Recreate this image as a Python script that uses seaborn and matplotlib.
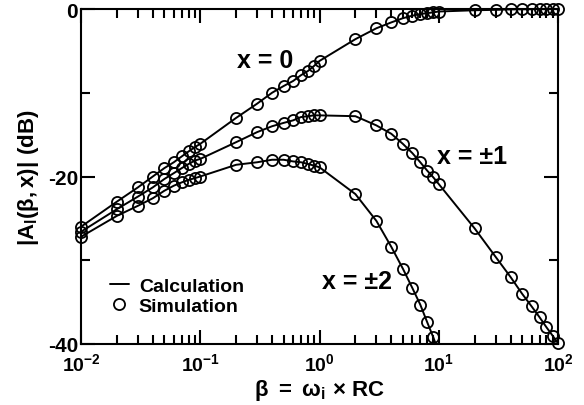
import numpy as np
import pandas as pd
import matplotlib
matplotlib.use('Agg')
import matplotlib.pyplot as plt
import seaborn as sns
from matplotlib.lines import Line2D
from matplotlib.ticker import FixedLocator, NullFormatter, LogLocator

# ---------------- data ----------------
beta = [0.01, 0.02, 0.03, 0.04, 0.05, 0.06, 0.07, 0.08, 0.09,
        0.1, 0.2, 0.3, 0.4, 0.5, 0.6, 0.7, 0.8, 0.9,
        1, 2, 3, 4, 5, 6, 7, 8, 9,
        10, 20, 30, 40, 50, 60, 70, 80, 90, 100]

amp_x0 = [-26.0, -23.0, -21.3, -20.0, -19.0, -18.3, -17.6, -17.0, -16.5,
          -16.1, -13.0, -11.3, -10.0, -9.2, -8.6, -7.9, -7.4, -6.8,
          -6.2, -3.6, -2.3, -1.6, -1.1, -0.8, -0.6, -0.5, -0.4,
          -0.3, -0.15, -0.1, -0.05, -0.04, -0.03, -0.02, -0.02, -0.01, -0.01]

amp_x1 = [-26.6, -23.9, -22.4, -21.3, -20.3, -19.6, -19.0, -18.5, -18.1,
          -17.9, -15.9, -14.7, -14.0, -13.6, -13.3, -12.9, -12.8, -12.7,
          -12.7, -12.8, -13.9, -14.9, -16.1, -17.2, -18.3, -19.3, -20.1,
          -20.9, -26.2, -29.6, -32.0, -34.0, -35.5, -36.8, -38.0, -39.0, -39.9]

beta_x2 = beta[:27]
amp_x2 = [-27.2, -24.7, -23.5, -22.6, -21.7, -21.1, -20.7, -20.4, -20.2,
          -20.0, -18.6, -18.3, -18.0, -18.0, -18.2, -18.3, -18.5, -18.7,
          -18.9, -22.1, -25.3, -28.4, -31.0, -33.3, -35.3, -37.4, -39.2]
# calculation curve of x = ±2 continues below the axis
calc_x2_tail_beta = [10]
calc_x2_tail_amp = [-41.0]

curve_labels = ['x = 0', 'x = \u00b11', 'x = \u00b12']
xtick_vals = [1e-2, 1e-1, 1e0, 1e1, 1e2]
xtick_labels = [r'$\mathbf{10^{-2}}$', r'$\mathbf{10^{-1}}$', r'$\mathbf{10^{0}}$',
                r'$\mathbf{10^{1}}$', r'$\mathbf{10^{2}}$']
ytick_vals = [0, -20, -40]
ytick_labels = ['0', '-20', '-40']
ytick_minor = [-10, -30]

sim = pd.concat([
    pd.DataFrame({'beta': beta, 'amp': amp_x0, 'curve': curve_labels[0]}),
    pd.DataFrame({'beta': beta, 'amp': amp_x1, 'curve': curve_labels[1]}),
    pd.DataFrame({'beta': beta_x2, 'amp': amp_x2, 'curve': curve_labels[2]}),
], ignore_index=True)
calc = pd.concat([
    sim,
    pd.DataFrame({'beta': calc_x2_tail_beta, 'amp': calc_x2_tail_amp, 'curve': curve_labels[2]}),
], ignore_index=True)

# ---------------- style ----------------
sns.set_style('ticks')
plt.rcParams.update({
    'font.family': ['Liberation Sans', 'DejaVu Sans'],
    'font.weight': 'bold',
    'mathtext.fontset': 'custom',
    'mathtext.rm': 'Liberation Sans',
    'mathtext.it': 'Liberation Sans:italic',
    'mathtext.bf': 'Liberation Sans:bold',
    'axes.linewidth': 1.5,
    'axes.edgecolor': 'black',
    'xtick.color': 'black',
    'ytick.color': 'black',
    'text.color': 'black',
    'axes.labelcolor': 'black',
})

fig = plt.figure(figsize=(5.84, 4.06), dpi=100)
ax = fig.add_axes([81 / 584, 1 - 345 / 406, 477 / 584, 335 / 406])

sns.lineplot(data=calc, x='beta', y='amp', units='curve', estimator=None,
             color='black', lw=1.4, ax=ax, legend=False, sort=True)
sns.lineplot(data=sim, x='beta', y='amp', units='curve', estimator=None,
             color='black', marker='o', linestyle='none', ms=8.0, mfc='none',
             mec='black', mew=1.3, ax=ax, legend=False, clip_on=False, zorder=3)

ax.set_xscale('log')
ax.set_xlim(1e-2, 1e2)
ax.set_ylim(-40, 0)
ax.xaxis.set_major_locator(FixedLocator(xtick_vals))
ax.set_xticklabels(xtick_labels)
ax.xaxis.set_minor_locator(LogLocator(base=10, subs=np.arange(2, 10)))
ax.xaxis.set_minor_formatter(NullFormatter())
ax.set_yticks(ytick_vals)
ax.set_yticklabels(ytick_labels)
ax.yaxis.set_minor_locator(FixedLocator(ytick_minor))

ax.tick_params(which='both', direction='in', top=True, right=True, width=1.5)
ax.tick_params(which='major', length=10)
ax.tick_params(which='minor', length=6.5)
ax.tick_params(axis='y', labelsize=15, pad=2)
ax.tick_params(axis='x', labelsize=14, pad=6)
for lab in ax.get_yticklabels():
    lab.set_fontweight('bold')

ax.set_xlabel(r'$\mathrm{\beta}\ \mathbf{=}\ \mathrm{\omega}_{\mathbf{i}}\ \mathrm{\times}\ \mathbf{RC}$',
              fontsize=16, labelpad=2)
ax.set_ylabel(r'$\mathbf{|A_{l}(}\mathrm{\beta}\mathbf{,x)|\ (dB)}$', fontsize=16, labelpad=5)

ax.text(0.386, 0.848, curve_labels[0], transform=ax.transAxes, fontsize=18,
        fontweight='bold', ha='center', va='center')
ax.text(0.820, 0.561, curve_labels[1], transform=ax.transAxes, fontsize=18,
        fontweight='bold', ha='center', va='center')
ax.text(0.579, 0.188, curve_labels[2], transform=ax.transAxes, fontsize=18,
        fontweight='bold', ha='center', va='center')

handles = [Line2D([], [], color='black', lw=1.4),
           Line2D([], [], ls='none', marker='o', mfc='none', mec='black', ms=8.0, mew=1.3)]
ax.legend(handles, ['Calculation', 'Simulation'], loc='upper left',
          bbox_to_anchor=(0.06, 0.20), frameon=False, fontsize=14,
          handlelength=1.0, handletextpad=0.5, labelspacing=0.15,
          borderpad=0, borderaxespad=0)

fig.savefig('out.png', dpi=100)
